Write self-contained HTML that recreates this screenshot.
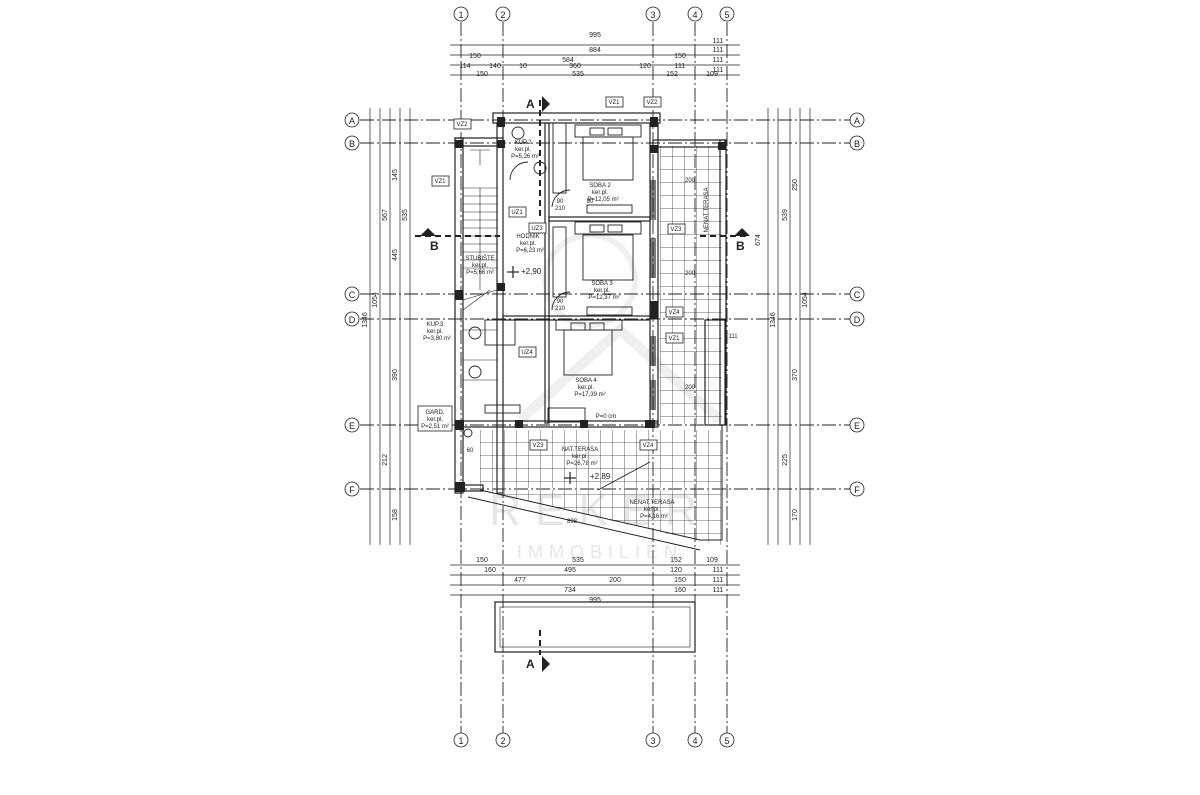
<!DOCTYPE html>
<html><head><meta charset="utf-8"><style>
html,body{margin:0;padding:0;background:#fff;}
svg{display:block;font-family:"Liberation Sans",sans-serif;}
</style></head><body>
<svg width="1200" height="795" viewBox="0 0 1200 795" xmlns="http://www.w3.org/2000/svg">
<defs>
<pattern id="grid" width="12" height="13" patternUnits="userSpaceOnUse">
<path d="M0 0H12M0 0V13" stroke="#333" stroke-width="0.8" fill="none"/>
</pattern>
</defs>
<rect width="1200" height="795" fill="#fff"/>
<g opacity="0.09" fill="none" stroke="#555" stroke-width="10">
<path d="M520 420 L620 330 L720 420"/>
<circle cx="590" cy="280" r="45" stroke-width="6"/>
</g>
<text x="600" y="525" font-size="44" text-anchor="middle" fill="#e6e6e6" letter-spacing="14">REKER</text>
<text x="600" y="558" font-size="18" text-anchor="middle" fill="#e6e6e6" letter-spacing="6">IMMOBILIEN</text>

<g stroke="#222" stroke-width="0.9" stroke-dasharray="14 3 2 3">
<line x1="461" y1="22" x2="461" y2="733"/>
<line x1="503" y1="22" x2="503" y2="733"/>
<line x1="653" y1="22" x2="653" y2="733"/>
<line x1="695" y1="22" x2="695" y2="733"/>
<line x1="727" y1="22" x2="727" y2="733"/>
<line x1="360" y1="120" x2="850" y2="120"/>
<line x1="360" y1="143" x2="850" y2="143"/>
<line x1="360" y1="294" x2="850" y2="294"/>
<line x1="360" y1="319" x2="850" y2="319"/>
<line x1="360" y1="425" x2="850" y2="425"/>
<line x1="360" y1="489" x2="850" y2="489"/>
</g>
<g fill="#fff" stroke="#222" stroke-width="0.8" font-size="10" text-anchor="middle">
<circle cx="461" cy="14" r="7"/><circle cx="503" cy="14" r="7"/><circle cx="653" cy="14" r="7"/><circle cx="695" cy="14" r="7"/><circle cx="727" cy="14" r="7"/>
<circle cx="461" cy="740" r="7"/><circle cx="503" cy="740" r="7"/><circle cx="653" cy="740" r="7"/><circle cx="695" cy="740" r="7"/><circle cx="727" cy="740" r="7"/>
<circle cx="352" cy="120" r="7"/><circle cx="352" cy="143" r="7"/><circle cx="352" cy="294" r="7"/><circle cx="352" cy="319" r="7"/><circle cx="352" cy="425" r="7"/><circle cx="352" cy="489" r="7"/>
<circle cx="857" cy="120" r="7"/><circle cx="857" cy="143" r="7"/><circle cx="857" cy="294" r="7"/><circle cx="857" cy="319" r="7"/><circle cx="857" cy="425" r="7"/><circle cx="857" cy="489" r="7"/>
</g>
<g font-size="9" text-anchor="middle" fill="#222">
<text x="461" y="18">1</text><text x="503" y="18">2</text><text x="653" y="18">3</text><text x="695" y="18">4</text><text x="727" y="18">5</text>
<text x="461" y="744">1</text><text x="503" y="744">2</text><text x="653" y="744">3</text><text x="695" y="744">4</text><text x="727" y="744">5</text>
<text x="352" y="124">A</text><text x="352" y="147">B</text><text x="352" y="298">C</text><text x="352" y="323">D</text><text x="352" y="429">E</text><text x="352" y="493">F</text>
<text x="857" y="124">A</text><text x="857" y="147">B</text><text x="857" y="298">C</text><text x="857" y="323">D</text><text x="857" y="429">E</text><text x="857" y="493">F</text>
</g>

<g stroke="#222" stroke-width="0.7">
<line x1="450" y1="45" x2="740" y2="45"/><line x1="450" y1="55" x2="740" y2="55"/><line x1="450" y1="65" x2="740" y2="65"/><line x1="450" y1="75" x2="740" y2="75"/>
<line x1="450" y1="565" x2="740" y2="565"/><line x1="450" y1="575" x2="740" y2="575"/><line x1="450" y1="585" x2="740" y2="585"/><line x1="450" y1="595" x2="740" y2="595"/>
<line x1="370" y1="108" x2="370" y2="545"/><line x1="380" y1="108" x2="380" y2="545"/><line x1="390" y1="108" x2="390" y2="545"/><line x1="400" y1="108" x2="400" y2="545"/><line x1="410" y1="108" x2="410" y2="545"/>
<line x1="768" y1="108" x2="768" y2="545"/><line x1="778" y1="108" x2="778" y2="545"/><line x1="790" y1="108" x2="790" y2="545"/><line x1="800" y1="108" x2="800" y2="545"/><line x1="810" y1="108" x2="810" y2="545"/>
</g>
<g font-size="7" fill="#222" text-anchor="middle">
<text x="595" y="37">995</text><text x="718" y="43">111</text>
<text x="595" y="52">884</text><text x="718" y="52">111</text>
<text x="475" y="58">150</text><text x="568" y="62">584</text><text x="680" y="58">150</text><text x="718" y="62">111</text>
<text x="465" y="68">114</text><text x="495" y="68">140</text><text x="523" y="68">10</text><text x="575" y="68">360</text><text x="645" y="68">120</text><text x="680" y="68">111</text><text x="718" y="72">111</text>
<text x="482" y="76">150</text><text x="578" y="76">535</text><text x="672" y="76">152</text><text x="712" y="76">109</text>
<text x="482" y="562">150</text><text x="578" y="562">535</text><text x="676" y="562">152</text><text x="712" y="562">109</text>
<text x="490" y="572">160</text><text x="570" y="572">495</text><text x="676" y="572">120</text><text x="718" y="572">111</text>
<text x="520" y="582">477</text><text x="615" y="582">200</text><text x="680" y="582">150</text><text x="718" y="582">111</text>
<text x="570" y="592">734</text><text x="680" y="592">160</text><text x="718" y="592">111</text>
<text x="595" y="602">995</text>
</g>
<g font-size="7" fill="#222" text-anchor="middle">
<text transform="translate(367,320) rotate(-90)">1346</text>
<text transform="translate(377,300) rotate(-90)">1054</text>
<text transform="translate(387,215) rotate(-90)">567</text>
<text transform="translate(397,175) rotate(-90)">145</text>
<text transform="translate(397,255) rotate(-90)">445</text>
<text transform="translate(407,215) rotate(-90)">535</text>
<text transform="translate(397,375) rotate(-90)">390</text>
<text transform="translate(387,460) rotate(-90)">212</text>
<text transform="translate(397,515) rotate(-90)">158</text>
<text transform="translate(775,320) rotate(-90)">1346</text>
<text transform="translate(787,215) rotate(-90)">539</text>
<text transform="translate(797,185) rotate(-90)">250</text>
<text transform="translate(807,300) rotate(-90)">1054</text>
<text transform="translate(797,375) rotate(-90)">370</text>
<text transform="translate(787,460) rotate(-90)">225</text>
<text transform="translate(797,515) rotate(-90)">170</text>
<text transform="translate(760,240) rotate(-90)">674</text>
</g>

<rect x="660" y="146" width="62" height="278" fill="url(#grid)"/>
<rect x="480" y="430" width="242" height="58" fill="url(#grid)"/>
<polygon points="480,490 722,490 722,545 695,540" fill="url(#grid)"/>
<g stroke="#222" fill="none" stroke-width="1">
<polyline points="480,490 700,540 722,540 722,425"/>
<line x1="468" y1="497" x2="700" y2="550"/>
</g>

<g fill="none" stroke="#222" stroke-width="1.2">
<rect x="493" y="113" width="167" height="10"/>
<rect x="455" y="138" width="8" height="355"/>
<rect x="455" y="138" width="48" height="8"/>
<rect x="497" y="123" width="6" height="370"/>
<rect x="650" y="123" width="8" height="300"/>
<rect x="653" y="140" width="72" height="7"/>
<rect x="720" y="140" width="6" height="285"/>
<rect x="545" y="123" width="4" height="300"/>
<rect x="549" y="217" width="101" height="4"/>
<rect x="503" y="316" width="147" height="4"/>
<rect x="463" y="421" width="195" height="6"/>
<rect x="463" y="485" width="20" height="6"/>
<rect x="705" y="320" width="20" height="105"/>
<rect x="495" y="602" width="200" height="50"/>
<rect x="500" y="607" width="190" height="40" stroke-width="0.6"/>
</g>
<g fill="#222">
<rect x="497" y="117" width="8" height="10"/><rect x="650" y="117" width="8" height="10"/><rect x="455" y="140" width="8" height="8"/>
<rect x="497" y="140" width="8" height="8"/><rect x="650" y="145" width="8" height="8"/><rect x="718" y="142" width="8" height="8"/>
<rect x="497" y="283" width="8" height="8"/><rect x="455" y="290" width="8" height="10"/><rect x="650" y="301" width="8" height="18"/>
<rect x="455" y="420" width="9" height="10"/><rect x="515" y="420" width="8" height="8"/><rect x="580" y="420" width="8" height="8"/><rect x="645" y="420" width="10" height="8"/>
<rect x="455" y="482" width="10" height="10"/><rect x="650" y="180" width="6" height="40" opacity="0.6"/><rect x="650" y="238" width="6" height="40" opacity="0.6"/>
<rect x="650" y="336" width="6" height="30" opacity="0.6"/><rect x="650" y="380" width="6" height="30" opacity="0.6"/>
</g>

<g stroke="#222" stroke-width="0.6">
<line x1="463" y1="188" x2="497" y2="188"/><line x1="463" y1="196" x2="497" y2="196"/><line x1="463" y1="204" x2="497" y2="204"/>
<line x1="463" y1="212" x2="497" y2="212"/><line x1="463" y1="220" x2="497" y2="220"/><line x1="463" y1="228" x2="497" y2="228"/>
<line x1="463" y1="236" x2="497" y2="236"/><line x1="463" y1="244" x2="497" y2="244"/><line x1="463" y1="252" x2="497" y2="252"/>
<line x1="463" y1="260" x2="497" y2="260"/><line x1="463" y1="268" x2="497" y2="268"/>
<line x1="480" y1="188" x2="480" y2="290"/>
<line x1="463" y1="300" x2="497" y2="290"/><line x1="463" y1="310" x2="490" y2="290"/>
<line x1="463" y1="330" x2="497" y2="330"/><line x1="463" y1="360" x2="497" y2="360"/><line x1="463" y1="380" x2="497" y2="380"/>
<line x1="470" y1="150" x2="490" y2="150"/><line x1="480" y1="150" x2="480" y2="165"/>
</g>

<g fill="none" stroke="#222" stroke-width="0.9">
<rect x="583" y="137" width="50" height="43"/><rect x="575" y="125" width="66" height="12"/>
<rect x="590" y="128" width="14" height="7"/><rect x="608" y="128" width="14" height="7"/>
<rect x="583" y="235" width="50" height="45"/><rect x="575" y="222" width="66" height="12"/>
<rect x="590" y="225" width="14" height="7"/><rect x="608" y="225" width="14" height="7"/>
<rect x="564" y="330" width="48" height="45"/><rect x="556" y="320" width="66" height="10"/>
<rect x="571" y="323" width="14" height="7"/><rect x="590" y="323" width="14" height="7"/>
<rect x="553" y="123" width="13" height="70"/><rect x="553" y="227" width="13" height="70"/>
<rect x="587" y="205" width="45" height="8"/><rect x="587" y="307" width="45" height="8"/>
<rect x="548" y="408" width="37" height="14"/>
<circle cx="518" cy="133" r="6"/><circle cx="540" cy="168" r="6"/>
<circle cx="475" cy="333" r="6"/><circle cx="475" cy="372" r="6"/><circle cx="468" cy="433" r="4"/>
<rect x="485" y="320" width="30" height="25"/><rect x="485" y="405" width="35" height="8"/>
<path d="M552 310 A18 18 0 0 1 570 292"/><path d="M552 207 A18 18 0 0 1 570 190"/><path d="M510 180 A18 18 0 0 1 528 162"/>
<path d="M598 490 L650 462"/>
</g>

<g stroke="#222" stroke-width="2" stroke-dasharray="6 4">
<line x1="415" y1="236" x2="500" y2="236"/><line x1="700" y1="236" x2="750" y2="236"/>
<line x1="540" y1="100" x2="540" y2="220"/><line x1="540" y1="630" x2="540" y2="655"/>
</g>
<g fill="#222" font-size="12" font-weight="bold">
<polygon points="428,228 436,236 420,236"/><text x="430" y="250">B</text>
<polygon points="742,228 750,236 734,236"/><text x="736" y="250">B</text>
<polygon points="542,96 550,104 542,112"/><text x="526" y="108">A</text>
<polygon points="542,656 550,664 542,672"/><text x="526" y="668">A</text>
</g>

<g fill="#fff" stroke="#222" stroke-width="0.8">
<rect x="606" y="97" width="17" height="10"/><rect x="644" y="97" width="17" height="10"/>
<rect x="454" y="119" width="17" height="10"/><rect x="432" y="176" width="17" height="10"/>
<rect x="509" y="207" width="17" height="10"/><rect x="529" y="223" width="17" height="10"/>
<rect x="668" y="224" width="17" height="10"/><rect x="666" y="307" width="17" height="10"/>
<rect x="666" y="333" width="17" height="10"/><rect x="519" y="347" width="17" height="10"/>
<rect x="530" y="440" width="17" height="10"/><rect x="640" y="440" width="17" height="10"/>
<rect x="418" y="406" width="34" height="25"/>
</g>
<g font-size="6" fill="#222" text-anchor="middle">
<text x="614" y="104">VZ1</text><text x="652" y="104">VZ2</text><text x="462" y="126">VZ2</text><text x="440" y="183">VZ1</text>
<text x="517" y="214">UZ1</text><text x="537" y="230">UZ3</text><text x="676" y="231">VZ3</text><text x="674" y="314">VZ4</text>
<text x="674" y="340">VZ1</text><text x="527" y="354">UZ4</text><text x="538" y="447">VZ3</text><text x="648" y="447">VZ4</text>
<text x="600" y="187">SOBA 2</text><text x="600" y="194">ker.pl.</text><text x="603" y="201">P=12,05 m²</text>
<text x="528" y="238">HODNIK</text><text x="528" y="245">ker.pl.</text><text x="530" y="252">P=6,23 m²</text>
<text x="480" y="260">STUBIŠTE</text><text x="480" y="267">ker.pl.</text><text x="480" y="274">P=5,66 m²</text>
<text x="602" y="285">SOBA 3</text><text x="602" y="292">ker.pl.</text><text x="604" y="299">P=12,37 m²</text>
<text x="523" y="144">KUP.2</text><text x="523" y="151">ker.pl.</text><text x="525" y="158">P=5,26 m²</text>
<text x="435" y="326">KUP.3</text><text x="435" y="333">ker.pl.</text><text x="437" y="340">P=3,80 m²</text>
<text x="435" y="414">GARD.</text><text x="435" y="421">ker.pl.</text><text x="435" y="428">P=2,51 m²</text>
<text x="586" y="382">SOBA 4</text><text x="586" y="389">ker.pl.</text><text x="590" y="396">P=17,39 m²</text>
<text x="580" y="451">NAT.TERASA</text><text x="580" y="458">ker.pl.</text><text x="582" y="465">P=26,78 m²</text>
<text x="652" y="504">NENAT.TERASA</text><text x="652" y="511">ker.pl.</text><text x="654" y="518">P=4,16 m²</text>
<text x="572" y="523">898</text><text x="733" y="338">111</text><text x="470" y="452">60</text><text x="606" y="418">P=0 cm</text>
<text x="590" y="203">90</text><text x="560" y="203">90</text><text x="560" y="210">210</text><text x="560" y="303">90</text><text x="560" y="310">210</text>
<text x="690" y="182">200</text><text x="690" y="275">200</text><text x="690" y="389">200</text>
</g>
<g font-size="8" fill="#222"><text x="521" y="274">+2,90</text><text x="590" y="479">+2,89</text></g>
<g stroke="#222" stroke-width="1.2"><line x1="513" y1="266" x2="513" y2="278"/><line x1="507" y1="272" x2="519" y2="272"/>
<line x1="570" y1="472" x2="570" y2="484"/><line x1="564" y1="478" x2="576" y2="478"/></g>
<text transform="translate(708,210) rotate(-90)" font-size="6" fill="#222" text-anchor="middle">NENAT.TERASA</text>
</svg>
</body></html>
